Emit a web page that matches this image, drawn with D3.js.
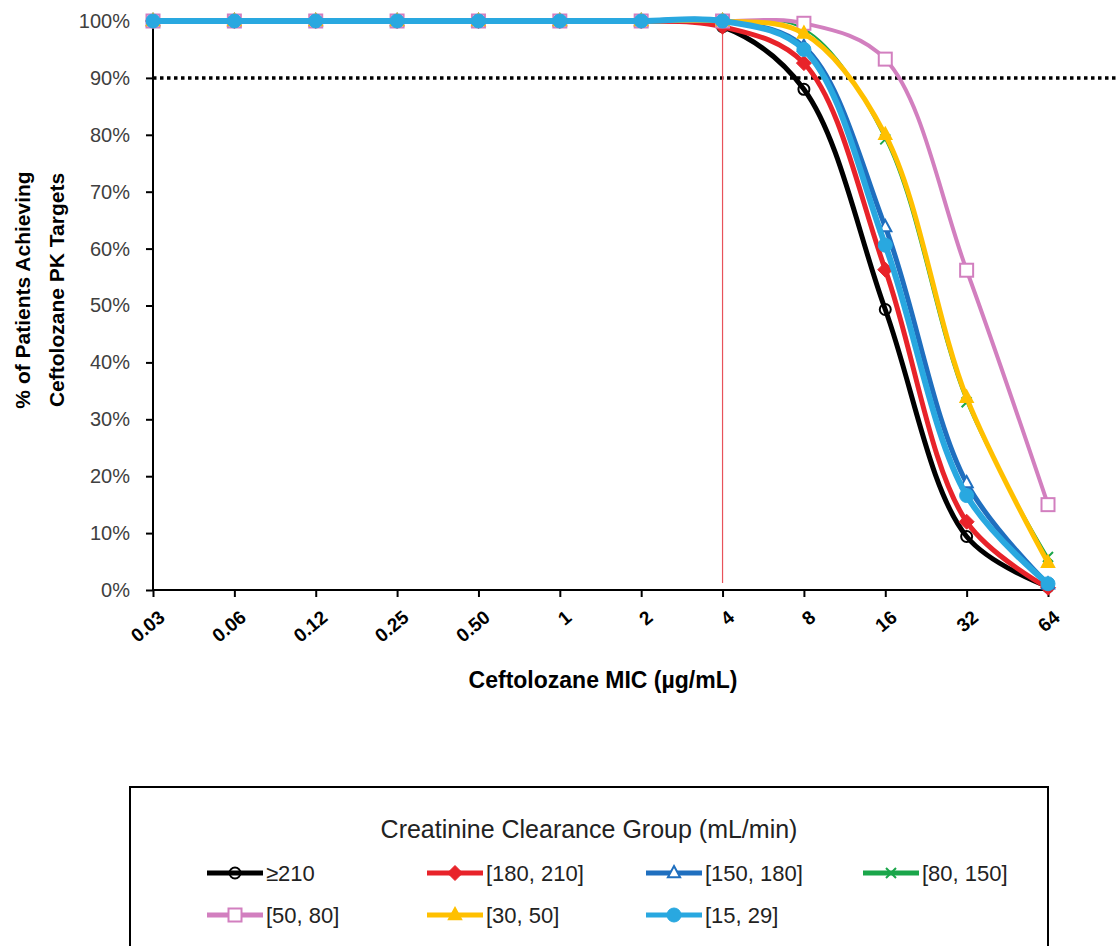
<!DOCTYPE html>
<html>
<head>
<meta charset="utf-8">
<script src="https://cdn.jsdelivr.net/npm/d3@7"></script>
<style>
body { margin: 0; background: #fff; }
text { font-family: "Liberation Sans Narrow", "Liberation Sans", Arial, sans-serif; }
</style>
</head>
<body>
<script>
const width = 1116;
const height = 946;

// data
const mics = ["0.03", "0.06", "0.12", "0.25", "0.50", "1", "2", "4", "8", "16", "32", "64"];
const yTicks = [0, 10, 20, 30, 40, 50, 60, 70, 80, 90, 100];
const groups = ["≥210", "[180, 210]", "[150, 180]", "[80, 150]", "[50, 80]", "[30, 50]", "[15, 29]"];
const ge210 = [100, 100, 100, 100, 100, 100, 100, 99, 88, 49.3, 9.4, 0.6];
const g180 = [100, 100, 100, 100, 100, 100, 100, 99, 92.6, 56.3, 12, 0.4];
const g150 = [100, 100, 100, 100, 100, 100, 100, 100, 95.5, 63.8, 18.8, 1];
const g80 = [100, 100, 100, 100, 100, 100, 100, 100, 98.6, 79.2, 33, 5.8];
const g50 = [100, 100, 100, 100, 100, 100, 100, 100, 99.6, 93.3, 56.2, 15];
const g30 = [100, 100, 100, 100, 100, 100, 100, 100, 97.8, 80, 33.8, 4.8];
const g15 = [100, 100, 100, 100, 100, 100, 100, 100, 95, 60.6, 16.6, 1.1];
const target = 90;

const series = [
    {name: groups[0], values: ge210, color: "#000000", w: 5, marker: "circle", fill: "none"},
    {name: groups[1], values: g180, color: "#e8232a", w: 5, marker: "diamond", fill: "#e8232a"},
    {name: groups[2], values: g150, color: "#1f6fbf", w: 5, marker: "triangle", fill: "#fff"},
    {name: groups[3], values: g80, color: "#1aa64a", w: 2, marker: "x", fill: "none"},
    {name: groups[4], values: g50, color: "#d27fbf", w: 4, marker: "square", fill: "#fff"},
    {name: groups[5], values: g30, color: "#ffc000", w: 5, marker: "triangle", fill: "#ffc000"},
    {name: groups[6], values: g15, color: "#29a8e0", w: 6, marker: "circle", fill: "#29a8e0"}
];

const margin = {left: 153, top: 21, right: 68, bottom: 356};
const x = d3.scalePoint().domain(mics).range([margin.left, width - margin.right]);
const y = d3.scaleLinear().domain([0, 100]).range([height - margin.bottom, margin.top]);

const svg = d3.select("body").append("svg")
    .attr("width", width)
    .attr("height", height);

// y axis
const yAxis = svg.append("g")
    .attr("transform", `translate(${margin.left},0)`)
    .call(d3.axisLeft(y).tickValues(yTicks).tickFormat(d => d + "%").tickSize(7).tickPadding(16));
yAxis.select(".domain").attr("stroke", "#000").attr("stroke-width", 2).attr("d", `M0,${y(0)}V${y(100)}`);
yAxis.selectAll(".tick line").attr("stroke", "#000").attr("stroke-width", 2);
yAxis.selectAll(".tick text").attr("font-size", 20).attr("fill", "#404040");

// x axis
const xAxis = svg.append("g")
    .attr("transform", `translate(0,${y(0)})`)
    .call(d3.axisBottom(x).tickSize(7).tickPadding(0));
xAxis.select(".domain").attr("stroke", "#000").attr("stroke-width", 2)
    .attr("d", `M${margin.left},0H${width - margin.right}`);
xAxis.selectAll(".tick line").attr("stroke", "#000").attr("stroke-width", 2);
xAxis.selectAll(".tick text")
    .attr("font-size", 19).attr("font-weight", "bold").attr("fill", "#000")
    .attr("text-anchor", "end")
    .attr("dy", 0)
    .attr("transform", "translate(8,24) rotate(-40)");

// axis titles
svg.append("text")
    .attr("x", 603).attr("y", 688)
    .attr("text-anchor", "middle")
    .attr("font-size", 23).attr("font-weight", "bold")
    .text("Ceftolozane MIC (µg/mL)");

const yTitle = svg.append("text")
    .attr("transform", "translate(0,290) rotate(-90)")
    .attr("text-anchor", "middle")
    .attr("font-size", 21).attr("font-weight", "bold");
yTitle.append("tspan").attr("x", 0).attr("y", 30).text("% of Patients Achieving");
yTitle.append("tspan").attr("x", 0).attr("y", 64).text("Ceftolozane PK Targets");

// 90% target line and MIC 4 marker line
svg.append("line")
    .attr("x1", margin.left).attr("x2", width)
    .attr("y1", y(target)).attr("y2", y(target))
    .attr("stroke", "#000").attr("stroke-width", 3.5)
    .attr("stroke-dasharray", "3.5,3.5");
svg.append("line")
    .attr("x1", x("4")).attr("x2", x("4"))
    .attr("y1", y(100)).attr("y2", y(0) - 7)
    .attr("stroke", "#e8525a").attr("stroke-width", 1.2);

const line = d3.line()
    .x((d, i) => x(mics[i]))
    .y(d => y(d))
    .curve(d3.curveCatmullRom.alpha(0.5));

function drawMarker(g, type, cx, cy, s) {
    const color = s.color;
    if (type === "circle") {
        g.append("circle").attr("cx", cx).attr("cy", cy).attr("r", s.fill === "none" ? 5.5 : 7)
            .attr("fill", s.fill === "none" ? "none" : s.fill)
            .attr("stroke", color).attr("stroke-width", s.fill === "none" ? 2 : 1);
    } else if (type === "diamond") {
        const r = 7.5;
        g.append("path").attr("d", `M${cx},${cy - r}L${cx + r},${cy}L${cx},${cy + r}L${cx - r},${cy}Z`)
            .attr("fill", s.fill).attr("stroke", color);
    } else if (type === "triangle") {
        const r = 7;
        g.append("path").attr("d", `M${cx},${cy - r}L${cx + r * 0.87},${cy + r * 0.6}L${cx - r * 0.87},${cy + r * 0.6}Z`)
            .attr("fill", s.fill).attr("stroke", color).attr("stroke-width", 2);
    } else if (type === "square") {
        const r = 6.5;
        g.append("rect").attr("x", cx - r).attr("y", cy - r).attr("width", 2 * r).attr("height", 2 * r)
            .attr("fill", s.fill).attr("stroke", color).attr("stroke-width", 2);
    } else if (type === "x") {
        const r = 5;
        g.append("path").attr("d", `M${cx - r},${cy - r}L${cx + r},${cy + r}M${cx - r},${cy + r}L${cx + r},${cy - r}`)
            .attr("stroke", color).attr("stroke-width", 2);
    }
}

const plot = svg.append("g");
series.forEach(s => {
    const g = plot.append("g");
    g.append("path")
        .attr("d", line(s.values))
        .attr("fill", "none")
        .attr("stroke", s.color)
        .attr("stroke-width", s.w);
    s.values.forEach((v, i) => drawMarker(g, s.marker, x(mics[i]), y(v), s));
});

// legend
const lg = svg.append("g");
lg.append("rect")
    .attr("x", 130).attr("y", 787).attr("width", 918).attr("height", 200)
    .attr("fill", "#fff").attr("stroke", "#000").attr("stroke-width", 2);
lg.append("text")
    .attr("x", 589).attr("y", 838)
    .attr("text-anchor", "middle")
    .attr("font-size", 25).attr("fill", "#222")
    .text("Creatinine Clearance Group (mL/min)");

const legendCols = [207, 427, 646, 863];
series.forEach((s, k) => {
    const col = k < 4 ? k : k - 4;
    const row = k < 4 ? 0 : 1;
    const lx = legendCols[col];
    const ly = 873 + row * 42;
    const item = lg.append("g");
    item.append("line")
        .attr("x1", lx).attr("x2", lx + 56)
        .attr("y1", ly).attr("y2", ly)
        .attr("stroke", s.color).attr("stroke-width", 5);
    drawMarker(item, s.marker, lx + 28, ly, s);
    item.append("text")
        .attr("x", lx + 59).attr("y", ly + 8)
        .attr("font-size", 22).attr("fill", "#222")
        .text(s.name);
});
</script>
</body>
</html>
